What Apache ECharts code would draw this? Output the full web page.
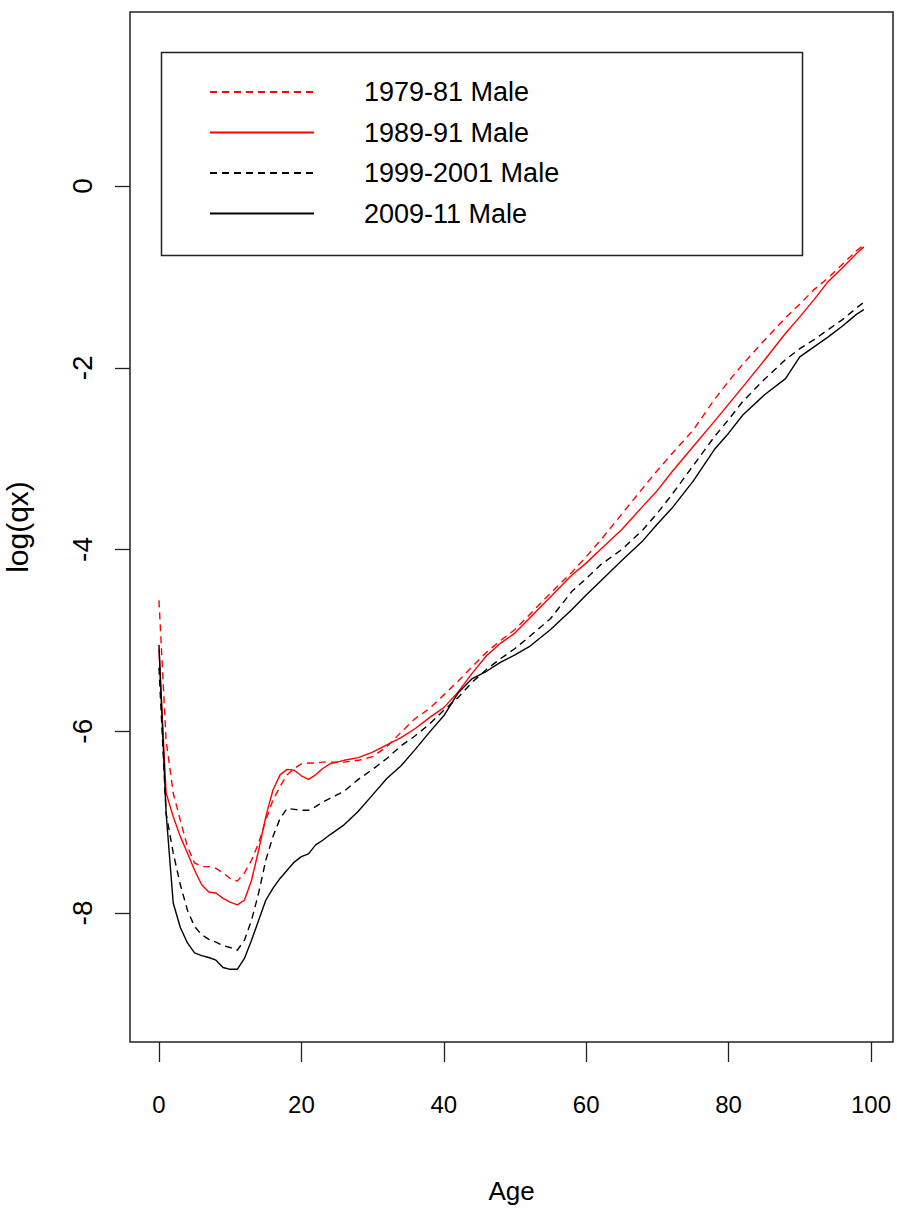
<!DOCTYPE html>
<html>
<head>
<meta charset="utf-8">
<script src="https://cdn.jsdelivr.net/npm/echarts@6/dist/echarts.min.js"></script>
<style>
html,body{margin:0;padding:0;background:#fff;}
#chart{width:897px;height:1215px;}
</style>
</head>
<body>
<div id="chart"></div>
<script>
var ages = [0,1,2,3,4,5,6,7,8,9,10,11,12,13,14,15,16,17,18,19,20,21,22,23,24,26,28,30,32,34,36,38,40,42,44,46,48,50,52,55,58,60,62,65,68,70,72,75,78,80,82,85,88,90,92,94,96,98,99];

var male1979 = [-4.56,-6.10,-6.68,-6.98,-7.27,-7.45,-7.49,-7.49,-7.51,-7.56,-7.62,-7.65,-7.56,-7.42,-7.23,-6.98,-6.76,-6.61,-6.48,-6.41,-6.36,-6.35,-6.35,-6.34,-6.34,-6.34,-6.32,-6.28,-6.17,-6.01,-5.86,-5.75,-5.60,-5.45,-5.29,-5.13,-5.00,-4.88,-4.72,-4.48,-4.25,-4.08,-3.90,-3.61,-3.32,-3.13,-2.95,-2.69,-2.35,-2.15,-1.96,-1.70,-1.45,-1.30,-1.14,-1.01,-0.86,-0.71,-0.65];

var male1989 = [-5.10,-6.68,-6.94,-7.16,-7.34,-7.53,-7.69,-7.77,-7.78,-7.84,-7.88,-7.91,-7.86,-7.64,-7.31,-6.94,-6.65,-6.48,-6.42,-6.43,-6.49,-6.53,-6.48,-6.41,-6.36,-6.32,-6.29,-6.23,-6.15,-6.07,-5.97,-5.85,-5.74,-5.57,-5.36,-5.17,-5.03,-4.92,-4.76,-4.52,-4.28,-4.15,-4.00,-3.78,-3.52,-3.35,-3.15,-2.87,-2.59,-2.40,-2.21,-1.92,-1.62,-1.44,-1.25,-1.05,-0.90,-0.74,-0.67];

var male1999 = [-5.30,-6.90,-7.34,-7.69,-7.97,-8.15,-8.24,-8.29,-8.32,-8.36,-8.38,-8.41,-8.30,-8.08,-7.78,-7.42,-7.16,-6.96,-6.85,-6.86,-6.87,-6.87,-6.83,-6.78,-6.74,-6.66,-6.53,-6.42,-6.30,-6.16,-6.05,-5.92,-5.77,-5.63,-5.46,-5.32,-5.20,-5.09,-4.96,-4.76,-4.46,-4.32,-4.17,-4.00,-3.78,-3.60,-3.40,-3.08,-2.76,-2.57,-2.37,-2.13,-1.91,-1.79,-1.69,-1.58,-1.47,-1.34,-1.28];

var male2009 = [-5.05,-6.90,-7.89,-8.16,-8.33,-8.44,-8.47,-8.49,-8.52,-8.60,-8.62,-8.62,-8.50,-8.30,-8.08,-7.86,-7.73,-7.62,-7.53,-7.44,-7.38,-7.35,-7.25,-7.20,-7.14,-7.03,-6.88,-6.70,-6.52,-6.38,-6.20,-6.01,-5.83,-5.58,-5.42,-5.34,-5.24,-5.16,-5.07,-4.88,-4.66,-4.50,-4.35,-4.12,-3.90,-3.72,-3.55,-3.25,-2.90,-2.72,-2.52,-2.30,-2.12,-1.88,-1.77,-1.66,-1.54,-1.41,-1.36];

var seriesNames = ['1979-81 Male','1989-91 Male','1999-2001 Male','2009-11 Male'];
var xTickValues = [0,20,40,60,80,100];
var yTickValues = [-8,-6,-4,-2,0];

function pairs(vals){ return ages.map(function(a,i){ return [a, vals[i]]; }); }

var font = "'Liberation Sans',Arial,sans-serif";

var chart = echarts.init(document.getElementById('chart'), null, {renderer:'svg'});
var styles = [
  {color:'#ff0000', type:[7,5]},
  {color:'#ff0000', type:'solid'},
  {color:'#000000', type:[7,5]},
  {color:'#000000', type:'solid'}
];
var dataSets = [male1979, male1989, male1999, male2009];

chart.setOption({
  animation:false,
  backgroundColor:'#ffffff',
  grid:{left:130, right:4, top:12, bottom:173, show:true, borderColor:'#222', borderWidth:1.5,
        backgroundColor:'transparent', outerBoundsMode:'none', containLabel:false},
  xAxis:{
    type:'value', min:-4.07, max:103.09,
    name:'Age', nameLocation:'middle', nameGap:136,
    nameTextStyle:{fontFamily:font, fontSize:26, color:'#000'},
    axisLine:{show:false, onZero:false},
    splitLine:{show:false},
    axisTick:{show:true, length:20, customValues:xTickValues, lineStyle:{color:'#222', width:1.3}},
    axisLabel:{customValues:xTickValues, margin:50, fontFamily:font, fontSize:24, color:'#000'}
  },
  yAxis:{
    type:'value', min:-9.42, max:1.915,
    name:'log(qx)', nameLocation:'middle', nameGap:98, nameRotate:90,
    nameTextStyle:{fontFamily:font, fontSize:30, color:'#000'},
    axisLine:{show:false, onZero:false},
    splitLine:{show:false},
    axisTick:{show:true, length:15, customValues:yTickValues, lineStyle:{color:'#222', width:1.3}},
    axisLabel:{customValues:yTickValues, rotate:90, margin:34, fontFamily:font, fontSize:28, color:'#000'}
  },
  legend:{
    orient:'vertical', left:209, top:78, padding:0,
    itemWidth:104, itemHeight:14, itemGap:12.5,
    data:seriesNames,
    itemStyle:{opacity:0, borderWidth:0},
    textStyle:{fontFamily:font, fontSize:27, lineHeight:28, color:'#000', padding:[0,0,0,45]}
  },
  graphic:[{
    type:'rect', left:159, top:50, z:100,
    shape:{width:641, height:203},
    style:{fill:'none', stroke:'#222', lineWidth:1.5}
  }],
  series:dataSets.map(function(d,i){
    return {
      name:seriesNames[i], type:'line', data:pairs(d),
      symbol:'none', showSymbol:false, smooth:false,
      lineStyle:{color:styles[i].color, type:styles[i].type, width:1.4},
      itemStyle:{color:styles[i].color}
    };
  })
});
</script>
</body>
</html>
